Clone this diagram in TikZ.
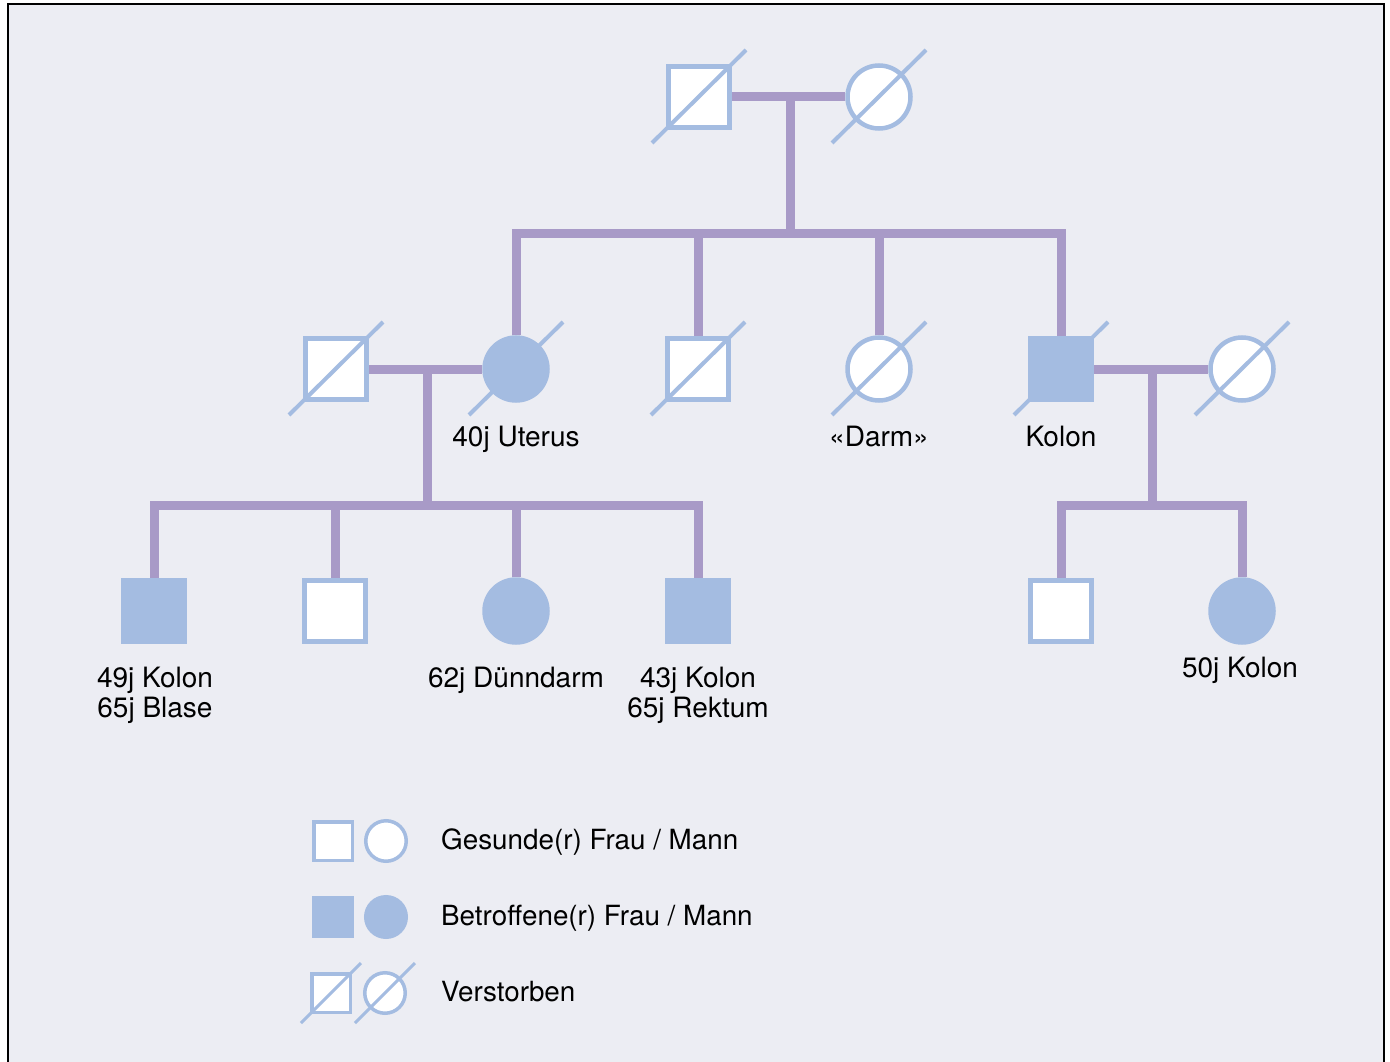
\documentclass[tikz,border=0pt]{standalone}
\usepackage{fontspec}
\setmainfont{TeX Gyre Heros}
\usetikzlibrary{backgrounds}
\definecolor{sym}{HTML}{A4BCE1}
\definecolor{lin}{HTML}{A89AC7}
\definecolor{bgc}{HTML}{ECEDF3}
\tikzset{
  male/.style={rectangle, draw=sym, fill=white, line width=4.5pt, minimum size=61pt, inner sep=0pt},
  female/.style={circle, draw=sym, fill=white, line width=4.5pt, minimum size=63pt, inner sep=0pt},
  affected/.style={fill=sym},
  lmale/.style={rectangle, draw=sym, fill=white, line width=3.5pt, minimum size=38.5pt, inner sep=0pt},
  lfemale/.style={circle, draw=sym, fill=white, line width=3.5pt, minimum size=40.5pt, inner sep=0pt},
  slash/.style={draw=sym, line width=4pt},
  lslash/.style={draw=sym, line width=3pt},
  rel/.style={draw=lin, line width=9pt},
  lab/.style={anchor=base, align=center, inner sep=0pt, font=\fontsize{28}{30}\selectfont},
  leg/.style={anchor=base west, inner sep=0pt, font=\fontsize{27.8}{30}\selectfont},
}
\begin{document}
\begin{tikzpicture}[x=1pt,y=-1pt]
\useasboundingbox (0,0) rectangle (1390,1062);
% generation I
\node[male] (m1) at (699,97) {};
\node[female] (f1) at (879,97) {};
% generation II
\node[male] (h2) at (336,369) {};
\node[female,affected] (a2) at (516,369) {};
\node[male] (b2) at (698,369) {};
\node[female] (c2) at (879,369) {};
\node[male,affected] (d2) at (1061,369) {};
\node[female] (w2) at (1242,369) {};
% generation III
\node[male,affected] (g1) at (154,611) {};
\node[male] (g2) at (335,611) {};
\node[female,affected] (g3) at (516,611) {};
\node[male,affected] (g4) at (698,611) {};
\node[male] (g5) at (1061,611) {};
\node[female,affected] (g6) at (1242,611) {};
% relationship lines
\coordinate (j1) at (790,97);
\coordinate (s1) at (790,233);
\coordinate (j2) at (427,369);
\coordinate (s2) at (427,505);
\coordinate (j3) at (1152,369);
\coordinate (s3) at (1152,505);
\begin{scope}[on background layer]
\fill[white] (0,0) rectangle (1390,1062);
\fill[bgc] (8,4) rectangle (1384,1062);
\draw[black, line width=1.5pt] (8,1062) -- (8,4) -- (1384,4) -- (1384,1062);
\draw[rel] (m1) -- (f1);
\draw[rel] (j1) -- (s1);
\draw[rel] (a2) |- (s1) -| (d2);
\draw[rel] (b2) -- (b2 |- s1);
\draw[rel] (c2) -- (c2 |- s1);
\draw[rel] (h2) -- (a2);
\draw[rel] (j2) -- (s2);
\draw[rel] (g1) |- (s2) -| (g4);
\draw[rel] (g2) -- (g2 |- s2);
\draw[rel] (g3) -- (g3 |- s2);
\draw[rel] (d2) -- (w2);
\draw[rel] (j3) -- (s3);
\draw[rel] (g5) |- (s3) -| (g6);
\end{scope}
% deceased slashes
\foreach \n in {m1,f1,h2,a2,b2,c2,d2,w2}{
  \draw[slash] ([shift={(-47,46)}]\n.center) -- ([shift={(47,-47)}]\n.center);
}
% labels
\node[lab] (la2) at (516,446) {40j Uterus};
\node[lab] (lc2) at (879,446) {«Darm»};
\node[lab] (ld2) at (1061,446) {Kolon};
\node[lab] (lg1) at (155,717) {49j Kolon\\65j Blase};
\node[lab] (lg3) at (516,687) {62j Dünndarm};
\node[lab] (lg4) at (698,717) {43j Kolon\\65j Rektum};
\node[lab] (lg6) at (1240,677) {50j Kolon};
% legend
\node[lmale] (k1) at (333,841) {};
\node[lfemale] (k2) at (386,841) {};
\node[leg] (t1) at (441,849) {Gesunde(r) Frau / Mann};
\node[lmale,affected] (k3) at (333,917) {};
\node[lfemale,affected] (k4) at (386,917) {};
\node[leg] (t2) at (441,925) {Betroffene(r) Frau / Mann};
\node[lmale] (k5) at (331,993) {};
\node[lfemale] (k6) at (385,993) {};
\draw[lslash] ([shift={(-30,30)}]k5.center) -- ([shift={(30,-30)}]k5.center);
\draw[lslash] ([shift={(-30,30)}]k6.center) -- ([shift={(30,-30)}]k6.center);
\node[leg] (t3) at (441,1001) {Verstorben};
\end{tikzpicture}
\end{document}
